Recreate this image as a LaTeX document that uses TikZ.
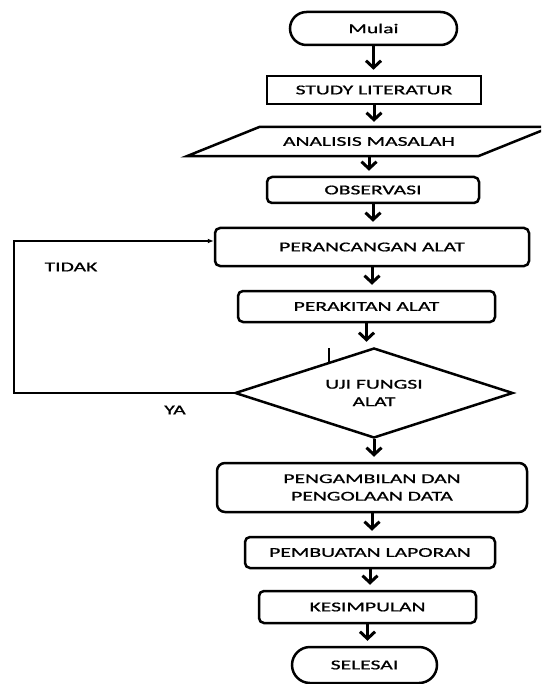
\documentclass[tikz,border=0pt]{standalone}
\usepackage{fontspec}
\setmainfont[FakeStretch=1.6, FakeBold=1]{Carlito}
\usetikzlibrary{arrows.meta, shapes.geometric, shapes.misc}

\begin{document}
\begin{tikzpicture}[x=1pt, y=-1pt,
        font=\fontsize{13.5}{17.5}\selectfont,
        terminal/.style={rounded rectangle, draw, line width=2.5pt, inner sep=0pt},
        process/.style={rectangle, draw, line width=2.5pt, inner sep=0pt},
        soft/.style={process, rounded corners=5pt},
        decision/.style={diamond, draw, line width=2.5pt, inner sep=0pt, aspect=3, align=center},
        flow/.style={-{Straight Barb[length=7pt,width=15pt]}, line width=3pt, shorten >=5pt},
        back/.style={-{Latex[length=6pt,width=5pt]}, line width=1.3pt}]
        \useasboundingbox (0,0) rectangle (541,684);
        \clip (0,0) rectangle (541,684);

        \node (mulai) [terminal, minimum width=167pt, minimum height=33pt] at (373.5,28.5) {Mulai};
        \node (study) [process, minimum width=214pt, minimum height=28pt] at (374,90) {STUDY LITERATUR};
        \node (analisis) [minimum width=291pt, minimum height=29pt, inner sep=0pt] at (369,141.5) {ANALISIS MASALAH};
        \node (observasi) [soft, minimum width=212pt, minimum height=26pt] at (373,190) {OBSERVASI};
        \node (perancangan) [soft, minimum width=314pt, minimum height=38pt] at (372,247) {PERANCANGAN ALAT};
        \node (perakitan) [soft, minimum width=257pt, minimum height=31pt] at (366.5,306.5) {PERAKITAN ALAT};
        \node (uji) [decision, minimum width=278pt, minimum height=90pt] at (374,393) {UJI FUNGSI\\ALAT};
        \node (data) [soft, rounded corners=8pt, minimum width=310pt, minimum height=49pt, align=center] at (372,487.5) {PENGAMBILAN DAN\\PENGOLAAN DATA};
        \node (laporan) [soft, minimum width=250pt, minimum height=31pt] at (370,552.5) {PEMBUATAN LAPORAN};
        \node (kesimpulan) [soft, minimum width=217pt, minimum height=32pt] at (367.5,607) {KESIMPULAN};
        \node (selesai) [terminal, minimum width=145pt, minimum height=36pt] at (364.5,665) {SELESAI};

        \node (tidak) at (71,267) {TIDAK};
        \node (ya) at (175,410) {YA};
        \coordinate (bend) at (14,241);
        \coordinate (tick) at (329,348);

        % parallelogram outline
        \draw[line width=2.5pt] ([xshift=-36.5pt]analisis.south west) -- ([xshift=36.5pt]analisis.north west)
            -- ([xshift=36.5pt]analisis.north east) -- ([xshift=-36.5pt]analisis.south east) -- cycle;

        \draw[flow] (mulai.south) -- (mulai.south |- study.north);
        \draw[flow] (study.south) -- (study.south |- analisis.north);
        \draw[flow] (analisis.south) -- (analisis.south |- observasi.north);
        \draw[flow] (observasi.south) -- (observasi.south |- perancangan.north);
        \draw[flow] (perancangan.south) -- (perancangan.south |- perakitan.north);
        \draw[flow] (perakitan.south) -- (perakitan.south |- uji.north);
        \draw[flow] (uji.south) -- (uji.south |- data.north);
        \draw[flow] (data.south) -- (data.south |- laporan.north);
        \draw[flow] (laporan.south) -- (laporan.south |- kesimpulan.north);
        \draw[flow] (kesimpulan.south) -- (kesimpulan.south |- selesai.north);

        \draw[back] (uji.west) -| (bend) -- ([yshift=6pt]perancangan.west);
        \draw[line width=1.5pt] (tick) -- ++(0,15);
    \end{tikzpicture}
\end{document}
